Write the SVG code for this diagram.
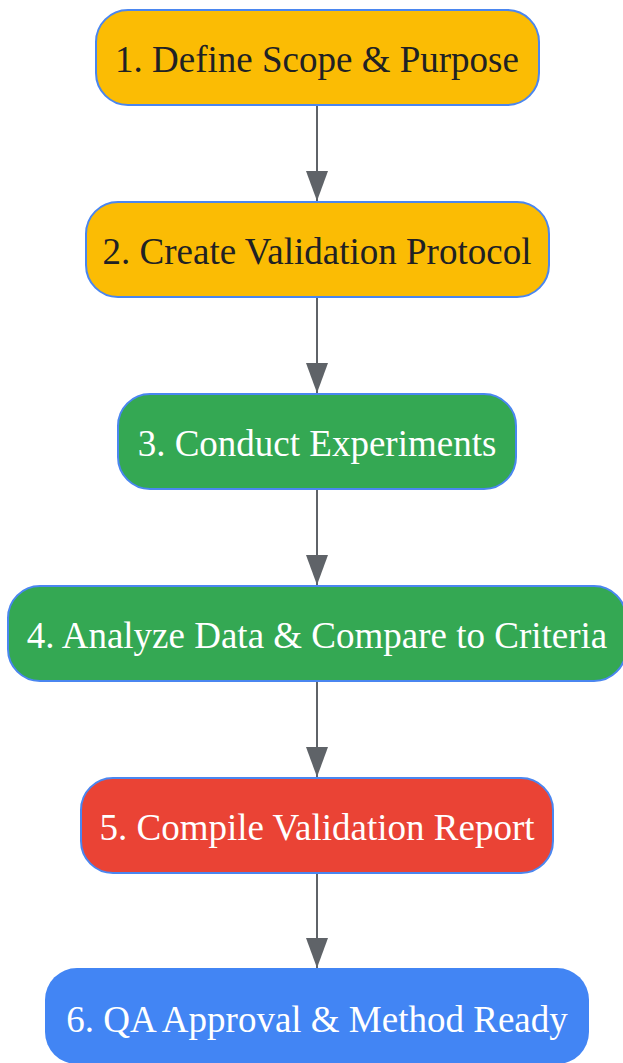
<svg xmlns="http://www.w3.org/2000/svg" width="623" height="1063" viewBox="0 0 623 1063">
<defs>
<style>
.n rect{stroke:#4a86f0;stroke-width:2}
.n text{font-family:"Liberation Serif",serif;font-size:37px;text-anchor:middle;dominant-baseline:central}
.y rect{fill:#fbbc04}.y text{fill:#202124}
.g rect{fill:#34a853}.r rect{fill:#ea4335}.b rect{fill:#4285f4;stroke:none}
.g text,.r text,.b text{fill:#ffffff}
.e{stroke:#5f6368;stroke-width:2;fill:none;marker-end:url(#ah)}
</style>
<marker id="ah" markerWidth="30" markerHeight="22" refX="30" refY="11" orient="auto" markerUnits="userSpaceOnUse" viewBox="0 0 30 22">
<path d="M0,0 L30,11 L0,22 Z" fill="#5f6368"/>
</marker>
</defs>
<g id="connectors">
<line class="e" x1="317" y1="105" x2="317" y2="201"/>
<line class="e" x1="317" y1="297" x2="317" y2="393"/>
<line class="e" x1="317" y1="489" x2="317" y2="585"/>
<line class="e" x1="317" y1="681" x2="317" y2="777"/>
<line class="e" x1="317" y1="873" x2="317" y2="968"/>
</g>
<g id="n1" class="n y"><rect x="96" y="10" width="443" height="95" rx="32"/><text x="317" y="59">1. Define Scope &amp; Purpose</text></g>
<g id="n2" class="n y"><rect x="86" y="202" width="463" height="95" rx="32"/><text x="317" y="251">2. Create Validation Protocol</text></g>
<g id="n3" class="n g"><rect x="118" y="394" width="398" height="95" rx="32"/><text x="317" y="443">3. Conduct Experiments</text></g>
<g id="n4" class="n g"><rect x="8" y="586" width="618" height="95" rx="32"/><text x="317" y="635">4. Analyze Data &amp; Compare to Criteria</text></g>
<g id="n5" class="n r"><rect x="81" y="778" width="472" height="95" rx="32"/><text x="317" y="827">5. Compile Validation Report</text></g>
<g id="n6" class="n b"><rect x="45" y="968" width="544" height="96" rx="32"/><text x="317" y="1019">6. QA Approval &amp; Method Ready</text></g>
</svg>
